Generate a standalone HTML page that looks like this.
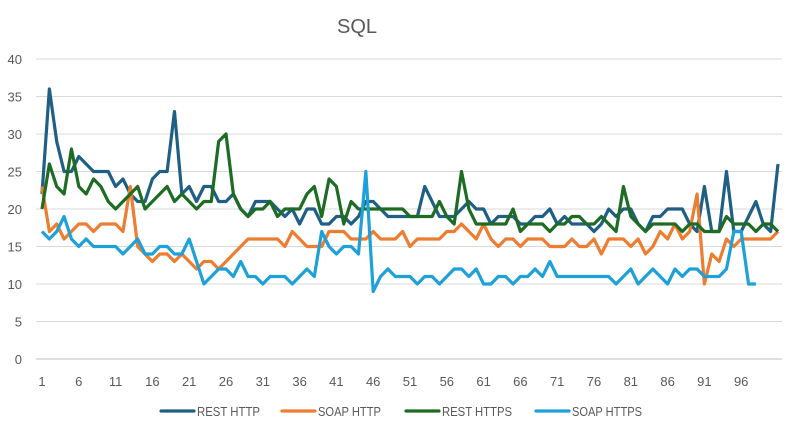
<!DOCTYPE html>
<html><head><meta charset="utf-8"><style>
body{margin:0;background:#fff;font-family:"Liberation Sans",sans-serif}
svg text{font-family:"Liberation Sans",sans-serif;fill:#595959}
</style></head><body>
<svg width="802" height="437">
<rect width="802" height="437" fill="#fff"/>
<text x="357" y="33" font-size="20" text-anchor="middle">SQL</text>
<g id="grid"></g><g id="series"></g><g id="legend"></g>
</svg>
<script>
const restHttp=[22,36,29,25,25,27,26,25,25,25,23,24,22,21,21,24,25,25,33,22,23,21,23,23,21,21,22,20,19,21,21,21,20,19,20,18,20,20,18,18,19,19,18,19,21,21,20,19,19,19,19,19,23,21,19,19,19,20,21,20,20,18,19,19,19,18,18,19,19,20,18,19,18,18,18,17,18,20,19,20,20,18,17,19,19,20,20,20,18,17,23,17,17,25,17,17,19,21,18,17,26];
const soapHttp=[23,17,18,16,17,18,18,17,18,18,18,17,23,15,14,13,14,14,13,14,13,12,13,13,12,13,14,15,16,16,16,16,16,15,17,16,15,15,15,17,17,17,16,16,16,17,16,16,16,17,15,16,16,16,16,17,17,18,17,16,18,16,15,16,16,15,16,16,16,15,15,15,16,15,15,16,14,16,16,16,15,16,14,15,17,16,18,16,17,22,10,14,13,16,15,16,16,16,16,16,17];
const restHttps=[20,26,23,22,28,23,22,24,23,21,20,21,22,23,20,21,22,23,21,22,21,20,21,21,29,30,22,20,19,20,20,21,19,20,20,20,22,23,19,24,23,18,21,20,20,20,20,20,20,20,19,19,19,19,21,19,18,25,20,18,18,18,18,18,20,17,18,18,18,17,18,18,19,19,18,18,19,18,17,23,19,18,17,18,18,18,18,17,18,18,17,17,17,19,18,18,18,17,18,18,17];
const soapHttps=[17,16,17,19,16,15,16,15,15,15,15,14,15,16,14,14,15,15,14,14,16,13,10,11,12,12,11,13,11,11,10,11,11,11,10,11,12,11,17,15,14,15,15,14,25,9,11,12,11,11,11,10,11,11,10,11,12,12,11,12,10,10,11,11,10,11,11,12,11,13,11,11,11,11,11,11,11,11,10,11,12,10,11,12,11,10,12,11,12,12,11,11,11,12,17,17,10,10];
const yTicks=[0,5,10,15,20,25,30,35,40];
const xTicks=[1,6,11,16,21,26,31,36,41,46,51,56,61,66,71,76,81,86,91,96];
const names=["REST HTTP","SOAP HTTP","REST HTTPS","SOAP HTTPS"];
const colors=["#1f5f84","#ed7d31","#1e6b23","#1ea1d8"];
const NS="http://www.w3.org/2000/svg";
const X0=42,STEP=7.36,Y0=359,Y1=59;
const xs=i=>X0+(i-1)*STEP;
const ys=v=>Y0-(v/40)*(Y0-Y1);
function mk(t,a,p){const e=document.createElementNS(NS,t);for(const k in a)e.setAttribute(k,a[k]);p.appendChild(e);return e;}
const g=document.getElementById('grid');
yTicks.forEach(v=>{
 const l=mk('line',{x1:36,x2:782,y1:ys(v),y2:ys(v),stroke:v===0?'#bfbfbf':'#d9d9d9','stroke-width':1},g);
 
 
 const t=mk('text',{x:22,y:ys(v)+5,'font-size':13,'text-anchor':'end'},g);t.textContent=v;
 
 
});
xTicks.forEach(v=>{
 const t=mk('text',{x:xs(v),y:386,'font-size':13,'text-anchor':'middle'},g);t.textContent=v;
 
 
});
const sg=document.getElementById('series');
[restHttp,soapHttp,restHttps,soapHttps].forEach((d,k)=>{
 const p=mk('polyline',{points:d.map((v,i)=>xs(i+1)+','+ys(v)).join(' '),fill:'none',stroke:colors[k],'stroke-width':3.2,'stroke-linejoin':'round'},sg);
 
 
});
const lg=document.getElementById('legend');
const lx=[160,281,405,535];
names.forEach((n,k)=>{
 const gg=mk('g',{},lg);
 
 
 mk('line',{x1:lx[k]+1,x2:lx[k]+34,y1:411,y2:411,stroke:colors[k],'stroke-width':3.2,'stroke-linecap':'round'},gg);
 const t=mk('text',{x:lx[k]+37,y:416,'font-size':12.5,textLength:n.length*7,lengthAdjust:'spacingAndGlyphs'},gg);t.textContent=n;
});
</script>
</body></html>
